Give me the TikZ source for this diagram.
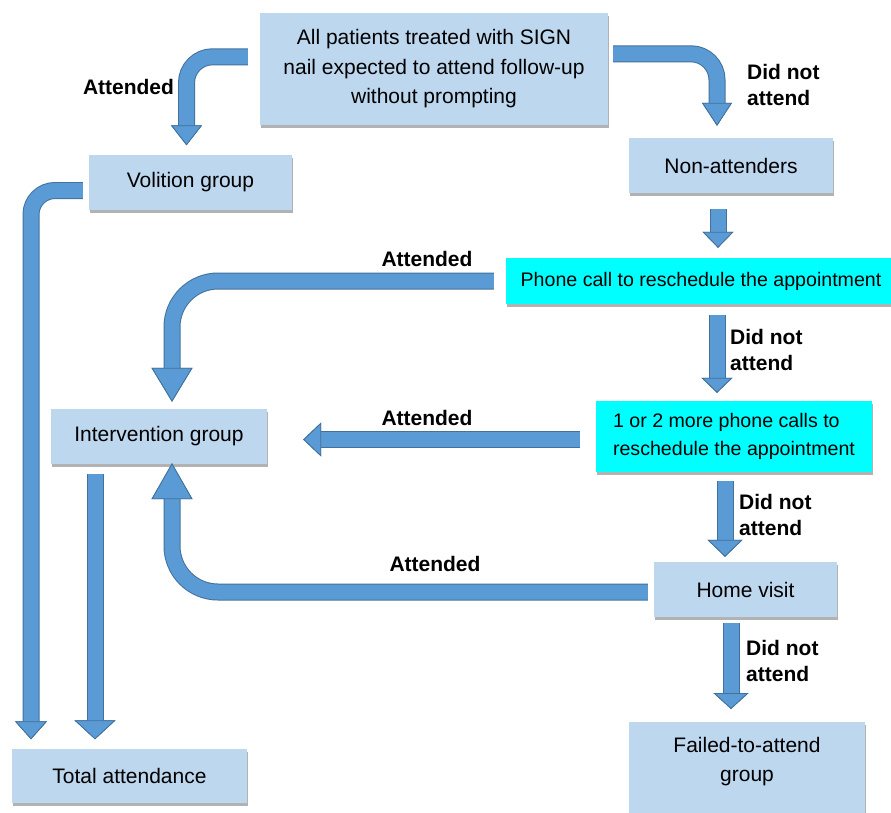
\documentclass[tikz,border=0pt]{standalone}
\usepackage{fontspec}
\setmainfont{Liberation Sans}
\usetikzlibrary{arrows.meta,shadows}

\definecolor{boxblue}{HTML}{BDD7EE}
\definecolor{callcyan}{HTML}{00FFFF}
\definecolor{arrowfill}{HTML}{5B9BD5}
\definecolor{arrowedge}{HTML}{41719C}

\tikzset{
  box/.style={fill=boxblue, align=center, minimum height=55pt, inner sep=2pt,
    drop shadow={shadow xshift=1pt, shadow yshift=-3pt, fill=black, opacity=0.3}},
  callbox/.style={box, fill=callcyan, font=\fontsize{19.6}{28}\selectfont},
  flow/.style={draw=arrowfill, line width=15pt, rounded corners=26pt,
    preaction={draw=arrowedge, line width=17pt}},
  arrowhead/.style 2 args={-{Triangle[width=#1pt, length=#2pt, color=arrowedge, fill=arrowfill, line width=0.8pt]}},
  lbl/.style={font=\bfseries\fontsize{21}{26}\selectfont, align=left, inner sep=0pt},
}

\begin{document}
\begin{tikzpicture}[x=1pt, y=-1pt, font=\fontsize{21}{29.5}\selectfont]
    \fill[white] (0,0) rectangle (891,812);
    \useasboundingbox (0,0) rectangle (891,812);

    % Boxen
    \node[box, minimum width=348pt, minimum height=112pt] (top) at (434,69) {All patients treated with SIGN\\nail expected to attend follow-up\\without prompting};
    \node[box, minimum width=203pt] (vol) at (190.5,182) {Volition group};
    \node[box, minimum width=204pt] (non) at (731,165.5) {Non-attenders};
    \node[callbox, minimum width=390pt, minimum height=46pt] (call1) at (701,281) {Phone call to reschedule the appointment};
    \node[callbox, minimum width=276pt, minimum height=71pt, align=left] (call2) at (734,436.5) {1 or 2 more phone calls to\\reschedule the appointment};
    \node[box, minimum width=216pt] (int) at (159,436.5) {Intervention group};
    \node[box, minimum width=183pt] (home) at (745.5,589.5) {Home visit};
    \node[box, minimum width=236pt, minimum height=95pt, anchor=north,
      label={[anchor=north, align=center, inner sep=0pt, yshift=-15pt]north:{Failed-to-attend\\group}}] (fail) at (747,722) {};
    \node[box, minimum width=235pt, minimum height=54pt] (total) at (129.5,775.5) {Total attendance};

    % Pfeile
    \draw[flow, arrowhead={31}{20}] ([shift={(-12,44)}]top.north west) -| ([shift={(-4,-9)}]vol.north);
    \draw[flow, arrowhead={30}{23}] ([shift={(5,41)}]top.north east) -| ([shift={(-14,-12)}]non.north);
    \draw[flow, arrowhead={31}{16}] ([shift={(-13,16)}]non.south) -- ([shift={(-13,-10)}]non.south |- call1.north);
    \draw[flow, arrowhead={31}{15}] ([shift={(-17,11)}]call2.north |- call1.south) -- ([shift={(-17,-8)}]call2.north);
    \draw[flow, arrowhead={35}{17}] ([shift={(-9,9)}]call2.south) -- ([shift={(-9,-5)}]call2.south |- home.north);
    \draw[flow, arrowhead={35}{16}] ([shift={(-14.5,6)}]home.south) -- ([shift={(-14.5,-13)}]home.south |- fail.north);
    \draw[flow, rounded corners=46pt, arrowhead={41}{34}] ([xshift=-12pt]call1.west) -| ([shift={(13,-7)}]int.north);
    \draw[flow, arrowhead={34}{18}] ([shift={(-16,3)}]call2.west) -- ([shift={(36,3)}]call2.west -| int.east);
    \draw[flow, rounded corners=46pt, arrowhead={41}{36}] ([shift={(-6,2.5)}]home.west) -| ([shift={(13,-1)}]int.south);
    \draw[flow, rounded corners=24pt, arrowhead={32}{18}] ([shift={(-6,8.5)}]vol.west) -| ([shift={(-98.5,-9)}]total.north);
    \draw[flow, arrowhead={41}{19}] ([shift={(-64,10)}]int.south) -- ([shift={(-64,-9)}]int.south |- total.north);

    % Beschriftungen
    \node[lbl] (attA) at (128.5,87) {Attended};
    \node[lbl, anchor=west] (dnaB) at (747,85) {Did not\\attend};
    \node[lbl] (attD) at (427,259) {Attended};
    \node[lbl, anchor=west] (dnaF) at (730,350) {Did not\\attend};
    \node[lbl] (attE) at (427,418) {Attended};
    \node[lbl, anchor=west] (dnaG) at (739,515) {Did not\\attend};
    \node[lbl] (attI) at (435,564) {Attended};
    \node[lbl, anchor=west] (dnaH) at (746,661) {Did not\\attend};
\end{tikzpicture}
\end{document}
